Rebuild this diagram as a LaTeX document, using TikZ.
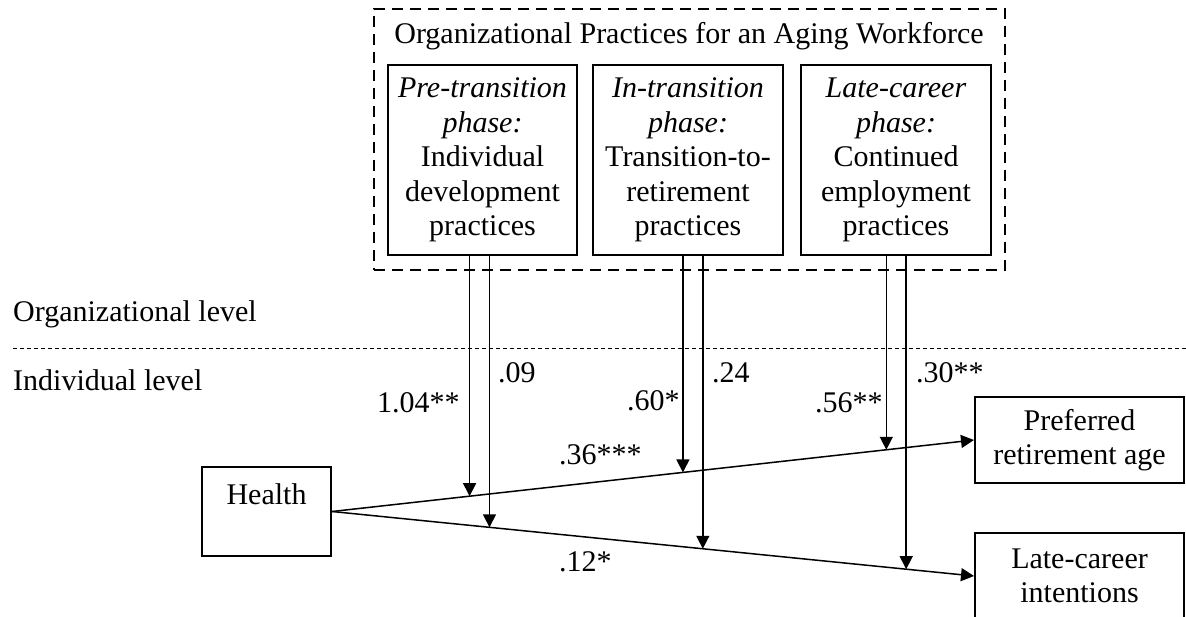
\documentclass[tikz,border=0pt]{standalone}
\usepackage{fontspec}
\setmainfont{Liberation Serif}
\usetikzlibrary{arrows.meta,calc}
\begin{document}
\begin{tikzpicture}[x=1pt,y=-1pt,
  every node/.style={font=\fontsize{30}{34.5}\selectfont, inner sep=0pt},
  phasebox/.style={draw, line width=2.5pt, minimum width=189pt, minimum height=190pt, align=center},
  outbox/.style={draw, line width=2pt, align=center},
  conn/.style={line width=1.5pt, -{Triangle[length=13pt,width=13pt]}},
  lab/.style={anchor=base west}]
\clip (0,0) rectangle (1186,616);
% outer dashed group
\node[draw, line width=2pt, dash pattern=on 11pt off 7pt, minimum width=631pt, minimum height=261pt] (org) at (689.5,139.5) {};
\node[anchor=base] (title) at (689,43) {Organizational Practices for an Aging Workforce};
\node[phasebox] (b1) at (482.5,160) {\textit{Pre-transition}\\\textit{phase:}\\Individual\\development\\practices};
\node[phasebox, minimum width=190pt] (b2) at (688,160) {\textit{In-transition}\\\textit{phase:}\\Transition-to-\\retirement\\practices};
\node[phasebox, minimum width=190pt] (b3) at (896,160) {\textit{Late-career}\\\textit{phase:}\\Continued\\employment\\practices};
% level separator
\coordinate (ll) at (13,348);
\coordinate (lr) at (1186,348);
\draw[line width=1pt, dash pattern=on 4pt off 3pt] (ll) -- (lr);
\node[lab] (orglev) at (13,321) {Organizational level};
\node[lab] (indlev) at (13,390) {Individual level};
% individual-level nodes
\node[outbox, minimum width=129pt, minimum height=89pt] (health) at (266.5,511.5) {Health\\\phantom{H}};
\node[outbox, minimum width=209pt, minimum height=86pt] (pref) at (1079.5,440) {Preferred\\retirement age};
\node[outbox, minimum width=209pt, minimum height=86pt] (late) at (1079.5,576) {Late-career\\intentions};
\draw[conn] (health.east) -- (pref.west);
\draw[conn] (health.east) -- (late.west);
% points on paths
\coordinate (p1) at ($(health.east)!0.2143!(pref.west)$);
\coordinate (q1) at ($(health.east)!0.2453!(late.west)$);
\coordinate (p2) at ($(health.east)!0.5466!(pref.west)$);
\coordinate (q2) at ($(health.east)!0.5776!(late.west)$);
\coordinate (p3) at ($(health.east)!0.8634!(pref.west)$);
\coordinate (q3) at ($(health.east)!0.8944!(late.west)$);
\draw[conn] (p1 |- b1.south) -- (p1);
\draw[conn] (q1 |- b1.south) -- (q1);
\draw[conn] (p2 |- b2.south) -- (p2);
\draw[conn] (q2 |- b2.south) -- (q2);
\draw[conn] (p3 |- b3.south) -- (p3);
\draw[conn] (q3 |- b3.south) -- (q3);
% coefficients
\node[lab] (l1) at (377,412) {1.04**};
\node[lab] (l2) at (498,382) {.09};
\node[lab] (l3) at (559,464) {.36***};
\node[lab] (l4) at (627,410) {.60*};
\node[lab] (l5) at (559,571) {.12*};
\node[lab] (l6) at (712,382) {.24};
\node[lab] (l7) at (815,412) {.56**};
\node[lab] (l8) at (916,382) {.30**};
\end{tikzpicture}
\end{document}
